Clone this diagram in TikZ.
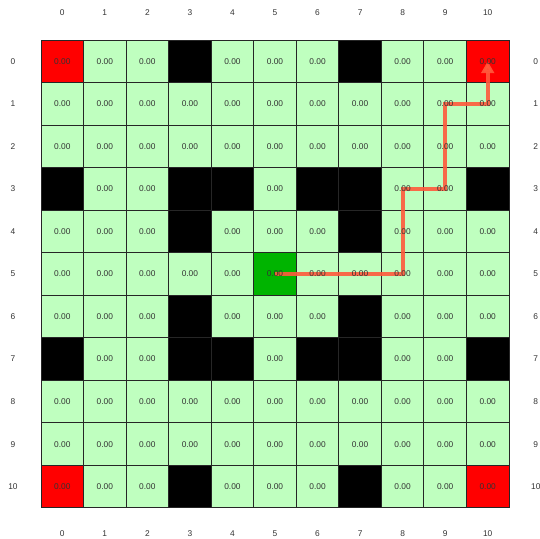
\documentclass[tikz,border=0pt]{standalone}
\usepackage{fontspec}
\setmainfont{Liberation Sans}
\usepackage{xcolor}
\usetikzlibrary{arrows.meta}

\definecolor{freegreen}{HTML}{BFFFBF}
\definecolor{startgreen}{HTML}{00B400}
\definecolor{goalred}{HTML}{FF0000}
\definecolor{routered}{HTML}{FF5A3C}

\begin{document}
\begin{tikzpicture}[
  x=1cm, y=-1cm,
  every node/.style={font=\fontsize{5.6}{6}\selectfont},
  cell/.style ={draw=black!85, line width=0.65pt, minimum size=1cm,
                inner sep=0pt, anchor=center},
  kF/.style   ={cell, fill=freegreen},
  kR/.style   ={cell, fill=goalred},
  kS/.style   ={cell, fill=startgreen},
  kW/.style   ={cell, fill=black},
  val/.style  ={text=black!80, inner sep=0pt},
  idx/.style  ={text=black!80, inner sep=0pt},
  route/.style={line width=2.6pt, draw=routered, opacity=0.9,
                -{Triangle[length=8pt, width=8.5pt]}}
]
\useasboundingbox (-0.964,-0.94) rectangle (11.729,11.729);

%% ---- Cells ---------------------------------------------------------
\def\maze{
  0/{R,F,F,W,F,F,F,W,F,F,R},
  1/{F,F,F,F,F,F,F,F,F,F,F},
  2/{F,F,F,F,F,F,F,F,F,F,F},
  3/{W,F,F,W,W,F,W,W,F,F,W},
  4/{F,F,F,W,F,F,F,W,F,F,F},
  5/{F,F,F,F,F,S,F,F,F,F,F},
  6/{F,F,F,W,F,F,F,W,F,F,F},
  7/{W,F,F,W,W,F,W,W,F,F,W},
  8/{F,F,F,F,F,F,F,F,F,F,F},
  9/{F,F,F,F,F,F,F,F,F,F,F},
  10/{R,F,F,W,F,F,F,W,F,F,R}}
\foreach \r/\row in \maze {
  \foreach \k [count=\c from 0] in \row {
    \node[k\k] (c-\r-\c) at (\c+0.5,\r+0.5) {};
  }
}

%% ---- Route ---------------------------------------------------------
\draw[route] (c-5-5.center) -- (c-5-8.center) -- (c-3-8.center)
  -- (c-3-9.center) -- (c-1-9.center) -- (c-1-10.center)
  -- (c-0-10.center);

%% ---- Values (on top of the route) ---------------------------------
\foreach \r/\row in \maze {
  \foreach \k [count=\c from 0] in \row {
    \if W\k\else
      \node[val] (v-\r-\c) at (c-\r-\c.center) {0.00};
    \fi
  }
}

%% ---- Row and column indices ---------------------------------------
\foreach \i in {0,...,10} {
  \node[idx] (top-\i)   at (\i+0.5,-0.65)  {\i};
  \node[idx] (bot-\i)   at (\i+0.5,11.61)  {\i};
  \node[idx] (left-\i)  at (-0.66,\i+0.5)  {\i};
  \node[idx] (right-\i) at (11.63,\i+0.5)  {\i};
}

\end{tikzpicture}
\end{document}
